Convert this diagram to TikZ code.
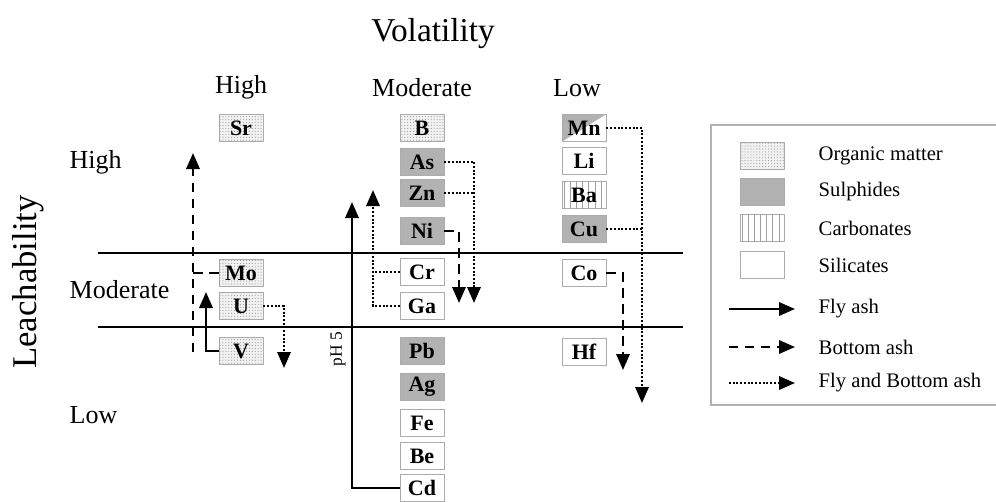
\documentclass[tikz,border=0pt]{standalone}
\usepackage{fontspec}
\setmainfont{Liberation Serif}
\usetikzlibrary{arrows.meta,patterns,patterns.meta}
\begin{document}
\begin{tikzpicture}[x=0.75pt,y=-0.75pt,
  elem/.style={draw=gray!65, line width=0.6pt, minimum width=33pt, minimum height=20.5pt, inner sep=0pt, font=\bfseries\fontsize{16.5}{16.5}\selectfont},
  org/.style={elem, fill=gray!10, postaction={pattern={Dots[distance=2.2pt,radius=0.45pt]}, pattern color=gray!75}},
  sulph/.style={elem, fill=gray!60},
  carb/.style={elem, fill=white, postaction={pattern={Lines[angle=90,distance=4.6pt,line width=0.5pt]}, pattern color=gray!75}},
  sil/.style={elem, fill=white},
  mixed/.style={elem, fill=white, path picture={\fill[gray!60] (path picture bounding box.north west) -- (path picture bounding box.north east) -- (path picture bounding box.south west) -- cycle;}},
  tip/.style={-{Triangle[length=12pt,width=10pt]}},
  flyline/.style={line width=1.7pt},
  botline/.style={line width=1.7pt, dash pattern=on 7pt off 5pt},
  fbline/.style={line width=1.7pt, dash pattern=on 1.5pt off 1.3pt},
  fly/.style={flyline, tip},
  bot/.style={botline, tip},
  fb/.style={fbline, tip},
  lab/.style={font=\fontsize{19.5}{20}\selectfont},
  leg/.style={font=\fontsize{15.5}{16}\selectfont, anchor=west}
]
\useasboundingbox (0,0) rectangle (996,501);

% titles
\node[font=\fontsize{25}{26}\selectfont] (vol) at (433,34) {Volatility};
\node[font=\fontsize{26}{27}\selectfont, rotate=90] (leach) at (28,282) {Leachability};
\node[lab] (hh) at (241,87) {High};
\node[lab] (hm) at (422,88) {Moderate};
\node[lab] (hl) at (577,88) {Low};
\node[lab, anchor=west] (rh) at (65,162) {High};
\node[lab, anchor=west] (rm) at (65,290) {Moderate};
\node[lab, anchor=west] (rl) at (65,415) {Low};

% separating lines
\draw[line width=1.7pt] (98,253) -- (683,253);
\draw[line width=1.7pt] (98,327) -- (683,327);

% left column
\node[org] (sr) at (241,128) {Sr};
\node[org] (mo) at (241,273) {Mo};
\node[org] (u) at (241,306) {U};
\node[org] (v) at (241,351) {V};

% middle column
\node[org] (b) at (422,128) {B};
\node[sulph] (as) at (422,162) {As};
\node[sulph] (zn) at (422,193) {Zn};
\node[sulph] (ni) at (422,231) {Ni};
\node[sil] (cr) at (422,272) {Cr};
\node[sil] (ga) at (422,306) {Ga};
\node[sulph] (pb) at (422,351) {Pb};
\node[sulph] (ag) at (422,387) {Ag};
\node[sil] (fe) at (422,423) {Fe};
\node[sil] (be) at (422,456) {Be};
\node[sil] (cd) at (422,488) {Cd};

% right column
\node[mixed] (mn) at (584,128) {Mn};
\node[sil] (li) at (584,161) {Li};
\node[carb] (ba) at (584,195) {Ba};
\node[sulph] (cu) at (584,229) {Cu};
\node[sil] (co) at (584,273) {Co};
\node[sil] (hf) at (584,352) {Hf};

% connector end points
\coordinate (lb) at (193,352);
\coordinate (lt) at (193,153);
\coordinate (vtip) at (206,292);
\coordinate (utip) at (284,368);
\coordinate (phtip) at (352,202);
\coordinate (gatip) at (373,190);
\coordinate (astip) at (474,303);
\coordinate (nitip) at (459,303);
\coordinate (mntip) at (642,403);
\coordinate (cotip) at (623,370);

% left connectors
\draw[botline] (mo.west) -- (mo.west -| lb);
\draw[bot] (lb) -- (lt);
\draw[fly] (v.west) -| (vtip);
\draw[fb] (u.east) -| (utip);

% middle connectors
\draw[fly] (cd.west) -| (phtip);
\node[rotate=90, font=\fontsize{13}{13}\selectfont] (ph) at (338,349) {pH 5};
\draw[fbline] (cr.west) -- (cr.west -| gatip);
\draw[fb] (ga.west) -| (gatip);
\draw[fb] (as.east) -| (astip);
\draw[fbline] (zn.east) -- (zn.east -| astip);
\draw[bot] (ni.east) -| (nitip);

% right connectors
\draw[fb] (mn.east) -| (mntip);
\draw[fbline] (cu.east) -- (cu.east -| mntip);
\draw[bot] (co.east) -| (cotip);

% legend
\draw[gray!60, line width=1pt] (997,125) -- (711,125) -- (711,405) -- (997,405);
\node[org] (lorg) at (762,156) {};
\node[sulph] (lsul) at (762,192) {};
\node[carb] (lcar) at (762,228) {};
\node[sil] (lsil) at (762,265) {};
\node[leg] (torg) at (814,156) {Organic matter};
\node[leg] (tsul) at (814,192) {Sulphides};
\node[leg] (tcar) at (814,228) {Carbonates};
\node[leg] (tsil) at (814,265) {Silicates};
\coordinate (fa1) at (729,309); \coordinate (fa2) at (795,309);
\coordinate (ba1) at (729,347); \coordinate (ba2) at (795,347);
\coordinate (fb1) at (729,383); \coordinate (fb2) at (795,383);
\draw[fly] (fa1) -- (fa2);
\draw[bot] (ba1) -- (ba2);
\draw[fb] (fb1) -- (fb2);
\node[leg] (tfa) at (814,309) {Fly ash};
\node[leg] (tba) at (814,347) {Bottom ash};
\node[leg] (tfb) at (814,383) {Fly and Bottom ash};
\end{tikzpicture}
\end{document}
